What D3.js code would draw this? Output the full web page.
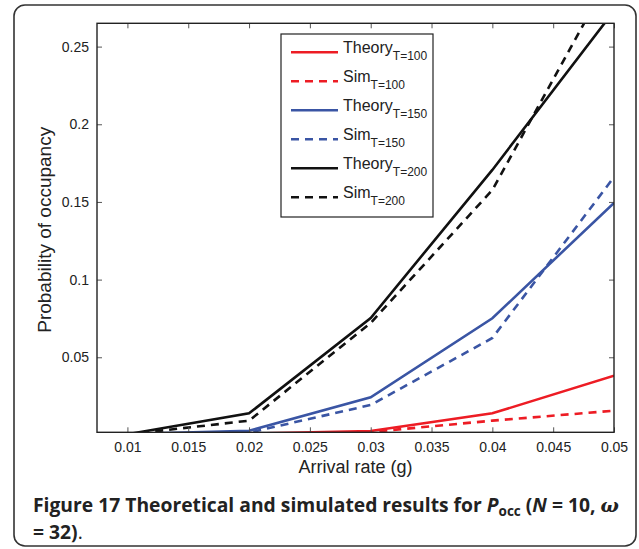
<!DOCTYPE html>
<html><head><meta charset="utf-8">
<script src="https://cdn.jsdelivr.net/npm/d3@7"></script>
<style>body{margin:0;background:#fff}</style>
</head><body>
<svg id="c" width="639" height="549"></svg>
<script>
const arrivalRates = [0.01, 0.02, 0.03, 0.04, 0.05];
const theory100 = [0.0000, 0.0008, 0.0025, 0.0139, 0.0381];
const sim100    = [0.0000, 0.0000, 0.0019, 0.0092, 0.0156];
const theory150 = [0.0005, 0.0027, 0.0242, 0.0751, 0.1494];
const sim150    = [0.0000, 0.0015, 0.0193, 0.0624, 0.1660];
const theory200 = [0.0005, 0.0139, 0.0753, 0.1706, 0.2730];
const sim200    = [0.0003, 0.0092, 0.0721, 0.1577, 0.3000];
const xTicks = [0.01, 0.015, 0.02, 0.025, 0.03, 0.035, 0.04, 0.045, 0.05];
const yTicks = [0.05, 0.1, 0.15, 0.2, 0.25];
const seriesNames = ["Theory", "Sim", "Theory", "Sim", "Theory", "Sim"];
const seriesSubs = ["T=100", "T=100", "T=150", "T=150", "T=200", "T=200"];

const RED = "#ed1c24", BLUE = "#3a55a4", BLACK = "#111111";
const series = [
  {vals: theory100, color: RED, dash: null},
  {vals: sim100, color: RED, dash: "8,6"},
  {vals: theory150, color: BLUE, dash: null},
  {vals: sim150, color: BLUE, dash: "8,6"},
  {vals: theory200, color: BLACK, dash: null},
  {vals: sim200, color: BLACK, dash: "8,6"}
];

const svg = d3.select("#c");
const L = 97, R = 614, T = 23.3, B = 432.3;
const x = d3.scaleLinear().domain([0.0075, 0.05]).range([L, R]);
const y = d3.scaleLinear().domain([0.0017, 0.265]).range([B, T]);

// frame
svg.append("rect").attr("x", 14).attr("y", 5).attr("width", 622).attr("height", 541)
  .attr("rx", 11).attr("fill", "#fff").attr("stroke", "#333").attr("stroke-width", 1.6);

svg.append("defs").append("clipPath").attr("id", "clip")
  .append("rect").attr("x", L).attr("y", T).attr("width", R - L).attr("height", B - T);

const line = d3.line().x((d, i) => x(arrivalRates[i])).y(d => y(d));
const g = svg.append("g").attr("clip-path", "url(#clip)");
series.forEach(s => {
  g.append("path").attr("d", line(s.vals)).attr("fill", "none")
    .attr("stroke", s.color).attr("stroke-width", 2.6)
    .attr("stroke-dasharray", s.dash);
});

// axes
const tickStyle = sel => {
  sel.select(".domain").remove();
  sel.selectAll(".tick line").attr("stroke", "#555").attr("stroke-width", 1);
  sel.selectAll("text").attr("font-family", "Liberation Sans, Arial, sans-serif")
    .attr("font-size", 14).attr("fill", "#222");
};
svg.append("g").attr("transform", `translate(0,${B})`)
  .call(d3.axisBottom(x).tickValues(xTicks).tickSize(-5).tickPadding(10).tickFormat(d3.format("")))
  .call(tickStyle);
svg.append("g").attr("transform", `translate(0,${T})`)
  .call(d3.axisTop(x).tickValues(xTicks).tickSize(-5).tickFormat(""))
  .call(tickStyle);
svg.append("g").attr("transform", `translate(${L},0)`)
  .call(d3.axisLeft(y).tickValues(yTicks).tickSize(-5).tickPadding(8).tickFormat(d3.format("")))
  .call(tickStyle);
svg.append("g").attr("transform", `translate(${R},0)`)
  .call(d3.axisRight(y).tickValues(yTicks).tickSize(-5).tickFormat(""))
  .call(tickStyle);

svg.append("rect").attr("x", L).attr("y", T).attr("width", R - L).attr("height", B - T)
  .attr("fill", "none").attr("stroke", "#222").attr("stroke-width", 1.4);

// axis titles
svg.append("text").attr("x", (L + R) / 2).attr("y", 473).attr("text-anchor", "middle")
  .attr("font-family", "Liberation Sans, Arial, sans-serif").attr("font-size", 18).attr("fill", "#222")
  .text("Arrival rate (g)");
svg.append("text").attr("transform", `translate(51,${(T + B) / 2 + 2}) rotate(-90)`)
  .attr("text-anchor", "middle")
  .attr("font-family", "Liberation Sans, Arial, sans-serif").attr("font-size", 19).attr("fill", "#222")
  .text("Probability of occupancy");

// legend
const lg = svg.append("g");
lg.append("rect").attr("x", 281).attr("y", 34).attr("width", 152).attr("height", 183)
  .attr("fill", "#fff").attr("stroke", "#222").attr("stroke-width", 1.2);
series.forEach((s, i) => {
  const yy = 52.3 + i * 29;
  lg.append("line").attr("x1", 291).attr("x2", 338).attr("y1", yy).attr("y2", yy)
    .attr("stroke", s.color).attr("stroke-width", 2.6).attr("stroke-dasharray", s.dash);
  const t = lg.append("text").attr("x", 343).attr("y", yy + 1)
    .attr("font-family", "Liberation Sans, Arial, sans-serif").attr("font-size", 16).attr("fill", "#222");
  t.append("tspan").text(seriesNames[i]);
  t.append("tspan").attr("dy", 7).attr("font-size", 12).text(seriesSubs[i]);
});

// caption
const cf = "'Open Sans', 'Noto Sans', sans-serif";
const c1 = svg.append("text").attr("x", 33).attr("y", 512)
  .attr("font-family", cf).attr("font-size", 19.3).attr("font-weight", "bold").attr("fill", "#222");
c1.append("tspan").text("Figure 17 Theoretical and simulated results for ");
c1.append("tspan").attr("font-style", "italic").text("P");
c1.append("tspan").attr("dy", 4).attr("font-size", 13.5).text("occ");
c1.append("tspan").attr("dy", -4).text(" (");
c1.append("tspan").attr("font-style", "italic").text("N");
c1.append("tspan").text(" = 10, ");
c1.append("tspan").attr("font-style", "italic").attr("font-family", "'DejaVu Serif', serif").text("ω");
const c2 = svg.append("text").attr("x", 33).attr("y", 539)
  .attr("font-family", cf).attr("font-size", 19.3).attr("fill", "#222");
c2.append("tspan").attr("font-weight", "bold").text("= 32)");
c2.append("tspan").text(".");
</script>
</body></html>
